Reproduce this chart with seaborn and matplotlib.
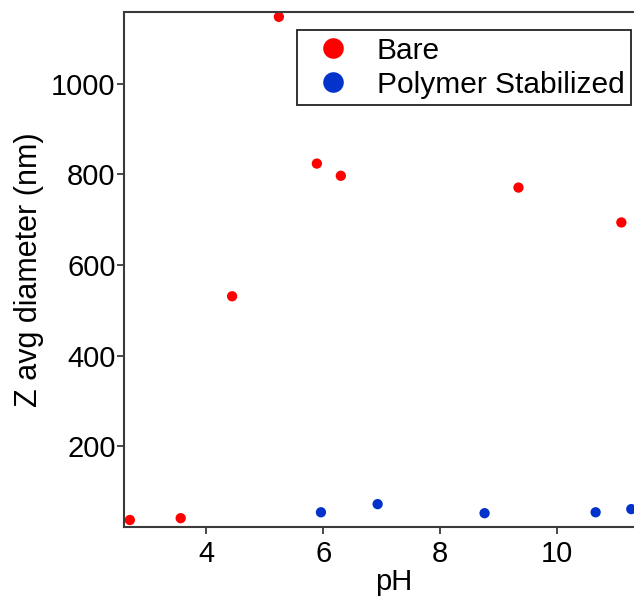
import matplotlib
matplotlib.use("Agg")
import matplotlib.pyplot as plt
import seaborn as sns
import pandas as pd

# Z-average diameter vs pH for bare and polymer-stabilized particles
bare_ph = [2.69, 3.56, 4.44, 5.24, 5.89, 6.30, 9.34, 11.10]
bare_z = [37, 41, 531, 1148, 824, 797, 771, 694]
poly_ph = [5.96, 6.93, 8.76, 10.66, 11.27]
poly_z = [54, 72, 52, 54, 61]
series = ["Bare", "Polymer Stabilized"]
colors = ["#ff0000", "#0433cc"]
y_ticks = [200, 400, 600, 800, 1000]
x_ticks = [4, 6, 8, 10]

df = pd.DataFrame({
    "pH": bare_ph + poly_ph,
    "Z": bare_z + poly_z,
    "Sample": [series[0]] * len(bare_ph) + [series[1]] * len(poly_ph),
})

sns.set_style("ticks")
plt.rcParams["font.family"] = ["Liberation Sans", "DejaVu Sans"]
plt.rcParams["text.color"] = "black"
plt.rcParams["axes.labelcolor"] = "black"

fig = plt.figure(figsize=(6.34, 6.00), dpi=100)
ax = fig.add_axes([124 / 634, 73 / 600, 540 / 634, 515 / 600])

sns.scatterplot(data=df, x="pH", y="Z", hue="Sample", hue_order=series,
                palette=colors, s=55, linewidth=0, ax=ax, legend=True)

ax.set_xlim(2.59, 11.83)
ax.set_ylim(21.5, 1158.7)
ax.set_xticks(x_ticks)
ax.set_yticks(y_ticks)

spine_col = "#3a3a3a"
for side in ["left", "bottom", "top"]:
    ax.spines[side].set_color(spine_col)
    ax.spines[side].set_linewidth(1.5)
ax.spines["right"].set_visible(False)
ax.tick_params(axis="both", direction="out", length=5, width=1.3,
               color=spine_col, labelsize=21, labelcolor="black")
ax.tick_params(axis="y", pad=1)
ax.tick_params(axis="x", pad=4)

ax.set_xlabel("pH", fontsize=21, labelpad=0, color="black")
ax.set_ylabel("Z avg diameter (nm)", fontsize=22, labelpad=5, color="black")

leg = ax.legend(loc="upper left", bbox_to_anchor=(297 / 634, 1 - 30 / 600),
                bbox_transform=fig.transFigure, fontsize=21.5, markerscale=2.0,
                frameon=True, fancybox=False, borderpad=0.22,
                handletextpad=0.5, labelspacing=0.21, handlelength=1.95,
                borderaxespad=0)
leg.get_frame().set_edgecolor("#222222")
leg.get_frame().set_linewidth(1.3)
leg.get_frame().set_alpha(1)
for t in leg.get_texts():
    t.set_color("black")

fig.savefig("out.png", dpi=100)
